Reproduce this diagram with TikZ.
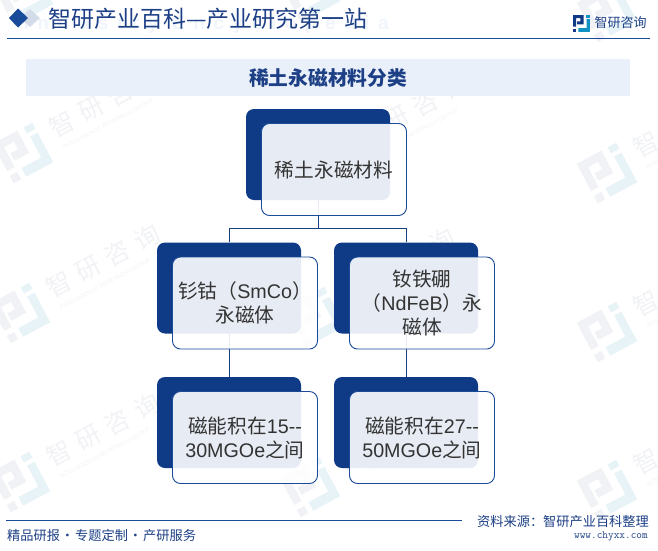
\documentclass[tikz,border=0pt]{standalone}
\usepackage{fontspec}
\setmainfont{Liberation Sans}
\newfontfamily\cjk{Noto Sans CJK SC}
\newfontfamily\cjkwide[LetterSpace=32]{Noto Sans CJK SC}
\newfontfamily\ghostwide[LetterSpace=45]{Liberation Sans}
\usetikzlibrary{calc,positioning}
\definecolor{navyCard}{HTML}{0F3A85}
\definecolor{navyLine}{HTML}{1A4A9A}
\definecolor{navyText}{HTML}{1C3F85}
\definecolor{bandBlue}{HTML}{EAF0FA}
\definecolor{markGrey}{HTML}{F1F2F5}
\definecolor{markCyan}{HTML}{E8F3F8}
\newcommand{\cardFont}{\fontsize{19.7}{24}\selectfont}

\tikzset{
  backcard/.style={fill=navyCard,rounded corners=8pt,minimum width=144pt,minimum height=91pt,inner sep=0pt},
  frontcard/.style={draw=navyLine,line width=.9pt,fill=white,fill opacity=.9,text opacity=1,rounded corners=8pt,
    minimum width=145pt,minimum height=92pt,inner sep=0pt,align=center,text width=145pt,text=black!80,font=\cardFont},
  linkline/.style={draw=navyLine!85!black,line width=.8pt},
  rule/.style={draw=navyLine,line width=1pt},
  logo/.pic={
    \fill[#1] (0,0) -- (10,0) -- (10,9) -- (4,9) -- (4,6) -- (7,6) -- (7,3) -- (3,3) -- (3,11) -- (0,11) -- cycle;
    \fill[#1] (0,13) rectangle (3,16);
  },
  logob/.pic={
    \fill[#1] (13,4) -- (16,4) -- (16,16) -- (5,16) -- (5,12.5) -- (13,12.5) -- cycle;
    \fill[#1] (12.5,0) rectangle (16,2.5);
  }
}

\begin{document}
\begin{tikzpicture}[x=1pt,y=-1pt]
  \useasboundingbox (0,0) rectangle (658,550);

  % the watermark logos
  \foreach \mx/\my in {23/-5,23/153,20/313,20/482,310/-8,328/163,315/317,310/487,607/12,607/173,607/332,607/490}
  {
    \begin{scope}[shift={(\mx,\my)},rotate=28,scale=2.8,shift={(-8,-8)}]
      \pic[transform shape] {logo=markGrey};
      \pic[transform shape] {logob=markCyan};
    \end{scope}
  }
  % and their words
  \foreach \mx/\my in {23/153,20/313,20/482,328/163,315/317,310/487,607/173,607/332,607/490}
  {
    \node[rotate=28,text=markGrey,font=\cjkwide\fontsize{25}{25}\selectfont,inner sep=0pt] (markWords) at ($(\mx,\my)+(83,-52)$) {智研咨询};
    \node[rotate=28,text=markGrey,font=\fontsize{6}{7}\selectfont,inner sep=0pt] (markEnglish) at ($(\mx,\my)+(85,-29)$) {INTELLIGENCE RESEARCH GROUP};
  }

  % the header
  \node[text=bandBlue!70!white,font=\ghostwide\bfseries\fontsize{19}{19}\selectfont,anchor=east,inner sep=0pt] (ghostTitle) at (389,25) {Industry Encyclopedia};
  \fill[navyCard!18!white] (30,9) -- (40,18) -- (30,27) -- (20,18) -- cycle;
  \fill[navyLine] (18,8.5) -- (28,18) -- (18,27.5) -- (9,18) -- cycle;
  \node[anchor=west,text=navyText,font=\cjk\fontsize{23}{24}\selectfont,inner sep=0pt] (siteTitle) at (48,19) {智研产业百科—产业研究第一站};
  \begin{scope}[shift={(573,15)},scale=1.05]
    \pic[transform shape] {logo=navyCard};
    \pic[transform shape] {logob=navyLine!60!cyan};
  \end{scope}
  \node[anchor=west,text=navyText,font=\cjk\fontsize{13}{14}\selectfont,inner sep=0pt] (brandName) at (594.5,22.5) {智研咨询};
  \coordinate (headLeft) at (7,38.5);
  \coordinate (headRight) at (650,38.5);
  \draw[rule] (headLeft) -- (headRight);

  % the title band
  \node[fill=bandBlue,minimum width=604pt,minimum height=37pt,inner sep=0pt,text=navyText,font=\cjk\bfseries\fontsize{19.7}{20}\selectfont] (band) at (328,77.5) {稀土永磁材料分类};

  % the dark cards
  \foreach \n/\x/\y in {root/318/154.5,smco/229/288,ndfeb/406/288,smcoval/229/422.5,ndfebval/406/422.5}
    \node[backcard] (\n Back) at (\x,\y) {};

  % the connectors
  \coordinate (busMid) at (318,228.5);
  \draw[linkline] (rootBack.south) -- (busMid);
  \draw[linkline] (busMid) -| (smcoBack.north);
  \draw[linkline] (busMid) -| (ndfebBack.north);
  \draw[linkline] (smcoBack.south) -- (smcovalBack.north);
  \draw[linkline] (ndfebBack.south) -- (ndfebvalBack.north);

  % the pale cards, each shifted from its dark one
  \foreach \n/\t in {
    root/{\cjk 稀土永磁材料},
    smco/{\cjk 钐钴（\rmfamily SmCo\cjk ）\\永磁体},
    ndfeb/{\cjk 钕铁硼\\（\rmfamily NdFeB\cjk ）永\\磁体},
    smcoval/{\cjk 磁能积在\rmfamily 15-{}-\\30MGOe\cjk 之间},
    ndfebval/{\cjk 磁能积在\rmfamily 27-{}-\\50MGOe\cjk 之间}}
    \node[frontcard] (\n Front) at ($(\n Back)+(16,15)$) {\t};

  % the footer
  \coordinate (footLeft) at (6,520);
  \coordinate (footRight) at (462,520);
  \draw[rule] (footLeft) -- (footRight);
  \node[anchor=west,text=navyText,font=\cjk\fontsize{13.2}{14}\selectfont,inner sep=0pt] (slogan) at (7,535) {精品研报\hspace{1pt}·\hspace{1pt}专题定制\hspace{1pt}·\hspace{1pt}产研服务};
  \node[anchor=east,text=navyText,font=\cjk\fontsize{13.2}{14}\selectfont,inner sep=0pt] (source) at (649,521) {资料来源：智研产业百科整理};
  \node[anchor=east,text=navyText,font=\ttfamily\fontsize{11}{11}\selectfont,inner sep=0pt] (website) at (648,536) {www.chyxx.com};
\end{tikzpicture}
\end{document}
